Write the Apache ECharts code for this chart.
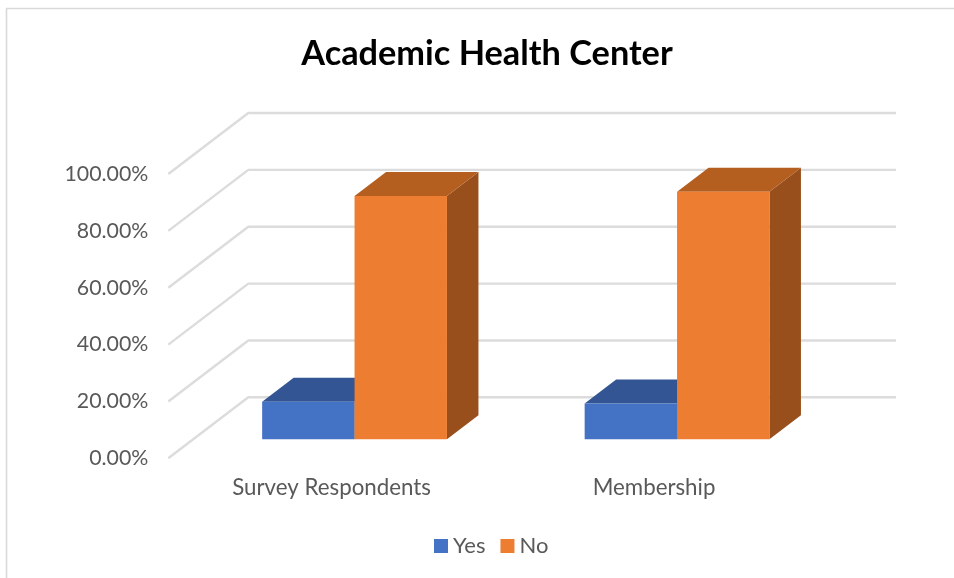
<!DOCTYPE html>
<html>
<head>
<meta charset="utf-8">
<style>html,body{margin:0;padding:0;background:#fff}#c{width:954px;height:578px}</style>
<script src="https://cdn.jsdelivr.net/npm/echarts@6/dist/echarts.min.js"></script>
</head>
<body>
<div id="c"></div>
<script>
const titleText = 'Academic Health Center';
const categories = ['Survey Respondents', 'Membership'];
const yesValues = [13.2, 12.6];
const noValues = [85.6, 87.1];
const tickValues = [0, 20, 40, 60, 80, 100];

const FONT = 'Lato, "Open Sans", sans-serif';
const WALL_DX = 80, WALL_DY = -61, WALL_RIGHT = 896;
const INSET_DX = 25, INSET_DY = -19;
const BAR_DX = 31.5, BAR_DY = -24;
const BAR_FRAC = 0.2865;

function wallItem(params, api) {
  const y = api.coord([0, api.value(0)])[1];
  const x = params.coordSys.x;
  return {
    type: 'polyline',
    shape: { points: [[x, y], [x + WALL_DX, y + WALL_DY], [WALL_RIGHT, y + WALL_DY]] },
    style: { stroke: '#dcdcdc', lineWidth: 2.4, fill: null, lineJoin: 'round' },
    silent: true
  };
}

function barItem(side, front, top, right) {
  return function (params, api) {
    const cat = api.value(0);
    const val = api.value(1);
    const base = api.coord([cat, 0]);
    const head = api.coord([cat, val]);
    const w = api.size([1, 0])[0] * BAR_FRAC;
    const x0 = base[0] + INSET_DX + (side < 0 ? -w : 0);
    const x1 = x0 + w;
    const yb = base[1] + INSET_DY;
    const yt = head[1] + INSET_DY;
    return {
      type: 'group',
      children: [
        { type: 'polygon', shape: { points: [[x1, yb], [x1 + BAR_DX, yb + BAR_DY], [x1 + BAR_DX, yt + BAR_DY], [x1, yt]] }, style: { fill: right } },
        { type: 'polygon', shape: { points: [[x0, yt], [x0 + BAR_DX, yt + BAR_DY], [x1 + BAR_DX, yt + BAR_DY], [x1, yt]] }, style: { fill: top } },
        { type: 'rect', shape: { x: x0, y: yt, width: w, height: yb - yt }, style: { fill: front } }
      ]
    };
  };
}

const chart = echarts.init(document.getElementById('c'), null, { renderer: 'canvas' });
chart.setOption({
  animation: false,
  backgroundColor: '#ffffff',
  title: {
    text: titleText, left: 482, top: 32, textAlign: 'center',
    textStyle: { fontFamily: FONT, fontSize: 34.3, fontWeight: 'bold', color: '#000000' }
  },
  legend: {
    data: ['Yes', 'No'], left: 429, top: 530, itemWidth: 14, itemHeight: 14, itemGap: 15, icon: 'rect',
    textStyle: { fontFamily: FONT, fontSize: 22, color: '#595959' }
  },
  grid: { left: 168.3, top: 174, width: 645, height: 284.3 },
  xAxis: {
    type: 'category', data: categories,
    axisLine: { show: false }, axisTick: { show: false }, splitLine: { show: false },
    axisLabel: { fontFamily: FONT, fontSize: 22.3, color: '#595959', margin: 19, padding: [0, 0, 0, 4] }
  },
  yAxis: {
    type: 'value', min: 0, max: 100, interval: 20,
    axisLine: { show: false }, axisTick: { show: false }, splitLine: { show: false },
    axisLabel: {
      fontFamily: FONT, fontSize: 21.3, color: '#595959', margin: 20, padding: [0, 0, 3, 0],
      formatter: v => v.toFixed(2) + '%'
    }
  },
  series: [
    {
      name: 'Walls', type: 'custom', z: 1, silent: true, renderItem: wallItem,
      encode: { y: 0 }, data: tickValues.map(v => [v])
    },
    {
      name: 'Yes', type: 'custom', z: 2, itemStyle: { color: '#4472C4' },
      renderItem: barItem(-1, '#4472C4', '#335593', '#2A4A80'),
      encode: { x: 0, y: 1 }, data: yesValues.map((v, i) => [i, v])
    },
    {
      name: 'No', type: 'custom', z: 3, itemStyle: { color: '#ED7D31' },
      renderItem: barItem(1, '#ED7D31', '#B45F20', '#984F1C'),
      encode: { x: 0, y: 1 }, data: noValues.map((v, i) => [i, v])
    }
  ],
  graphic: [
    { type: 'line', shape: { x1: 6.5, y1: 8.5, x2: 6.5, y2: 578 }, style: { stroke: '#d9d9d9', lineWidth: 1.6 }, silent: true },
    { type: 'line', shape: { x1: 6, y1: 8.5, x2: 954, y2: 8.5 }, style: { stroke: '#d9d9d9', lineWidth: 1.6 }, silent: true }
  ]
});
</script>
</body>
</html>
